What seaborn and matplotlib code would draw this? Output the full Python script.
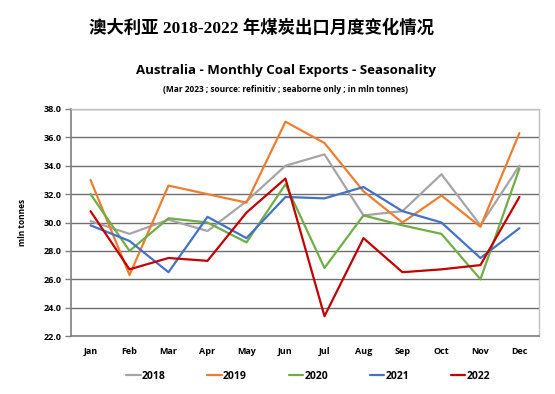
import matplotlib
matplotlib.use("Agg")
import matplotlib.pyplot as plt
import seaborn as sns
import pandas as pd
from matplotlib.ticker import FormatStrFormatter

months = ["Jan", "Feb", "Mar", "Apr", "May", "Jun", "Jul", "Aug", "Sep", "Oct", "Nov", "Dec"]
y2018 = [30.1, 29.2, 30.2, 29.4, 31.5, 34.0, 34.8, 30.5, 30.8, 33.4, 29.8, 34.0]
y2019 = [33.0, 26.3, 32.6, 32.0, 31.4, 37.1, 35.6, 32.2, 30.0, 31.9, 29.7, 36.3]
y2020 = [32.0, 28.0, 30.3, 30.0, 28.6, 32.7, 26.8, 30.5, 29.8, 29.2, 26.0, 33.8]
y2021 = [29.8, 28.7, 26.5, 30.4, 28.9, 31.8, 31.7, 32.5, 30.8, 30.0, 27.5, 29.6]
y2022 = [30.8, 26.7, 27.5, 27.3, 30.7, 33.1, 23.4, 28.9, 26.5, 26.7, 27.0, 31.8]
years = ["2018", "2019", "2020", "2021", "2022"]
colors = ["#A5A5A5", "#ED7D31", "#70AD47", "#4472C4", "#C00000"]

series = [y2018, y2019, y2020, y2021, y2022]
rows = []
for yr, vals in zip(years, series):
    for i, (m, v) in enumerate(zip(months, vals)):
        rows.append({"year": yr, "idx": i, "month": m, "value": v})
df = pd.DataFrame(rows)

sns.set_theme(style="white")
plt.rcParams["font.family"] = ["Open Sans", "DejaVu Sans"]
plt.rcParams["text.color"] = "black"

fig = plt.figure(figsize=(5.55, 3.94), dpi=100)
ax = fig.add_axes([0.128, 0.147, 0.843, 0.5765])

sns.lineplot(data=df, x="idx", y="value", hue="year", palette=dict(zip(years, colors)),
             linewidth=1.6, ax=ax, legend=True, zorder=3)

ax.set_xlim(-0.5, 11.5)
ax.set_ylim(22, 38)
ax.set_yticks([22 + 2 * i for i in range(9)])
ax.yaxis.set_major_formatter(FormatStrFormatter("%.1f"))
ax.set_xticks(range(12))
ax.set_xticklabels(months)
for lab in ax.get_xticklabels() + ax.get_yticklabels():
    lab.set_fontsize(6.5)
    lab.set_fontweight("bold")
    lab.set_color("black")
ax.tick_params(axis="x", length=0, pad=8)
ax.tick_params(axis="y", length=4, width=1, color="#7F7F7F", pad=3, left=True)
ax.grid(axis="y", color="#6E6E6E", linewidth=1.0)
ax.grid(axis="x", visible=False)
ax.set_xlabel("")
ax.set_ylabel("mln tonnes", fontsize=6, fontweight="bold", labelpad=12, color="black")

for side in ["top", "right"]:
    ax.spines[side].set_color("#BFBFBF")
    ax.spines[side].set_linewidth(1.0)
ax.spines["left"].set_color("#7F7F7F")
ax.spines["left"].set_linewidth(1.2)
ax.spines["bottom"].set_color("#7F7F7F")
ax.spines["bottom"].set_linewidth(1.2)

handles, labels = ax.get_legend_handles_labels()
ax.legend_.remove()
leg = fig.legend(handles, labels, loc="center", bbox_to_anchor=(0.555, 0.045), ncol=5,
                 frameon=False, handlelength=1.4, handletextpad=0.1, columnspacing=4.0,
                 prop={"size": 7.5, "weight": "bold"})

fig.text(0.472, 0.929, "澳大利亚 2018-2022 年煤炭出口月度变化情况", ha="center", va="center",
         fontsize=12.5, fontweight="bold", color="black",
         family=["Liberation Serif", "Noto Sans CJK SC"])
fig.text(0.515, 0.82, "Australia - Monthly Coal Exports - Seasonality", ha="center", va="center",
         fontsize=9.5, fontweight="bold", color="black")
fig.text(0.515, 0.774, "(Mar 2023 ; source: refinitiv ; seaborne only ; in mln tonnes)", ha="center",
         va="center", fontsize=6, fontweight="bold", color="black")

fig.savefig("out.png", dpi=100, facecolor="white")
